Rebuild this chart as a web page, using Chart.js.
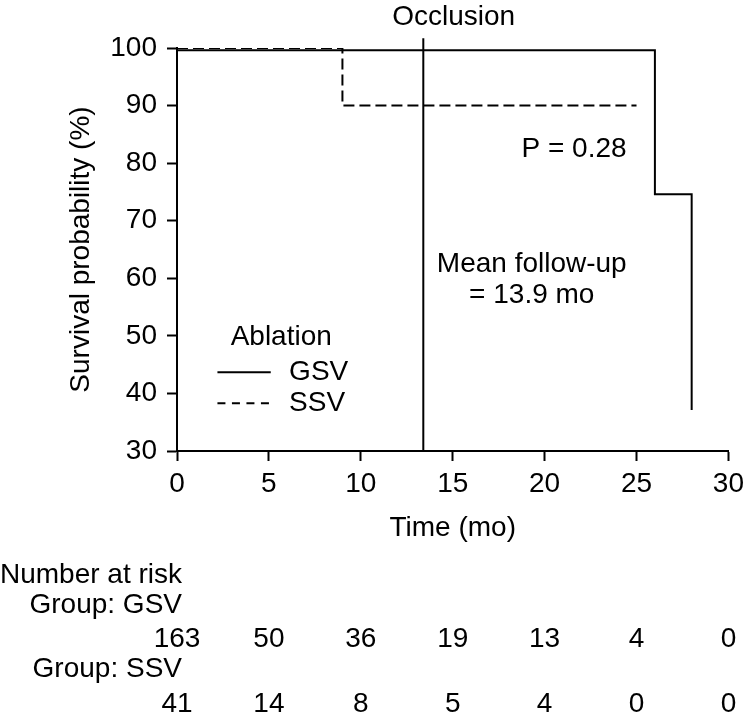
<!DOCTYPE html>
<html><head><meta charset="utf-8">
<script src="https://cdn.jsdelivr.net/npm/chart.js@4/dist/chart.umd.min.js"></script>
<style>html,body{margin:0;padding:0;background:#fff}canvas{display:block}</style>
</head><body>
<canvas id="c" width="750" height="714"></canvas>
<script>
// ---- data ----
const seriesNames = ['GSV', 'SSV'];
const gsvTime = [0, 26, 28];
const gsvSurv = [99.6, 74.6, 37.1];
const ssvTime = [0, 9, 25];
const ssvSurv = [100, 90, 90];
const occlusionTime = 13.4;
const xTickValues = [0, 5, 10, 15, 20, 25, 30];
const yTickValues = [30, 40, 50, 60, 70, 80, 90, 100];
const riskTimes = [0, 5, 10, 15, 20, 25, 30];
const riskGSV = [163, 50, 36, 19, 13, 4, 0];
const riskSSV = [41, 14, 8, 5, 4, 0, 0];

// ---- text ----
const texts = {
  top: 'Occlusion', p: 'P = 0.28', mean1: 'Mean follow-up', mean2: '= 13.9 mo',
  legendTitle: 'Ablation', xTitle: 'Time (mo)', yTitle: 'Survival probability (%)',
  riskTitle: 'Number at risk', groupPrefix: 'Group: '
};

// ---- layout (data-unit anchors for annotations) ----
const FONT = '28px "Liberation Sans", Arial, sans-serif';
const annot = {
  top: [15.05, 104.0], p: [21.6, 81.07], mean1: [19.3, 61.1], mean2: [19.3, 55.7],
  legendTitle: [5.67, 49.8], legendLine: [2.2, 5.1], legendText: 6.1, legendRows: [43.7, 38.3]
};
const riskRows = {title: 583, g1: 613, n1: 647, g2: 677, n2: 712, groupRight: 182};

const toPts = (t, s) => t.map((v, i) => ({x: v, y: s[i]}));

const overlay = {
  id: 'overlay',
  afterDraw(chart) {
    const {ctx} = chart; const x = chart.scales.x, y = chart.scales.y;
    const px = v => x.getPixelForValue(v), py = v => y.getPixelForValue(v);
    ctx.save();
    ctx.fillStyle = '#000'; ctx.font = FONT; ctx.textBaseline = 'alphabetic';
    ctx.textAlign = 'center';
    ctx.fillText(texts.top, px(annot.top[0]), py(annot.top[1]));
    ctx.fillText(texts.p, px(annot.p[0]), py(annot.p[1]));
    ctx.fillText(texts.mean1, px(annot.mean1[0]), py(annot.mean1[1]));
    ctx.fillText(texts.mean2, px(annot.mean2[0]), py(annot.mean2[1]));
    // legend
    ctx.textBaseline = 'middle';
    ctx.fillText(texts.legendTitle, px(annot.legendTitle[0]), py(annot.legendTitle[1]));
    const legendDash = [[], [8, 6.5]];
    seriesNames.forEach((name, i) => {
      const yy = py(annot.legendRows[i]);
      ctx.beginPath();
      ctx.setLineDash(legendDash[i]);
      ctx.lineWidth = 2; ctx.strokeStyle = '#000';
      ctx.moveTo(px(annot.legendLine[0]), yy); ctx.lineTo(px(annot.legendLine[1]), yy);
      ctx.stroke();
      ctx.setLineDash([]);
      ctx.textAlign = 'left';
      ctx.fillText(name, px(annot.legendText), yy);
    });
    // number at risk table
    ctx.textBaseline = 'alphabetic';
    ctx.textAlign = 'left';
    ctx.fillText(texts.riskTitle, 0, riskRows.title);
    ctx.textAlign = 'right';
    ctx.fillText(texts.groupPrefix + seriesNames[0], riskRows.groupRight, riskRows.g1);
    ctx.fillText(texts.groupPrefix + seriesNames[1], riskRows.groupRight, riskRows.g2);
    ctx.textAlign = 'center';
    riskTimes.forEach((t, i) => {
      ctx.fillText(String(riskGSV[i]), px(t), riskRows.n1);
      ctx.fillText(String(riskSSV[i]), px(t), riskRows.n2);
    });
    ctx.restore();
  }
};

Chart.defaults.font.family = '"Liberation Sans", Arial, sans-serif';
Chart.defaults.font.size = 28;
Chart.defaults.color = '#000';

new Chart(document.getElementById('c'), {
  type: 'line',
  data: {
    datasets: [
      {label: seriesNames[0], data: toPts(gsvTime, gsvSurv), stepped: 'before', borderColor: '#000', borderWidth: 2, pointRadius: 0, fill: false},
      {label: seriesNames[1], data: toPts(ssvTime, ssvSurv), stepped: 'before', borderColor: '#000', borderWidth: 2, borderDash: [11, 5], pointRadius: 0, fill: false},
      {label: 'Occlusion', data: [{x: occlusionTime, y: 30}, {x: occlusionTime, y: 101.7}], borderColor: '#000', borderWidth: 2, pointRadius: 0, fill: false, clip: false}
    ]
  },
  options: {
    responsive: false, animation: false, devicePixelRatio: 1,
    layout: {padding: {left: 0, right: 17, top: 48, bottom: 169}},
    plugins: {legend: {display: false}, tooltip: {enabled: false}},
    scales: {
      x: {
        type: 'linear', min: 0, max: 30,
        afterBuildTicks: s => { s.ticks = xTickValues.map(v => ({value: v})); },
        afterFit: s => { s.height = 94; },
        ticks: {padding: 6, maxRotation: 0, autoSkip: false, font: {size: 28}},
        grid: {display: true, drawOnChartArea: false, drawTicks: true, tickLength: 10, tickColor: '#000', tickWidth: 2},
        border: {display: true, color: '#000', width: 2},
        title: {display: true, text: texts.xTitle, font: {size: 28}, padding: {top: 0, bottom: 0}}
      },
      y: {
        type: 'linear', min: 30, max: 100,
        afterBuildTicks: s => { s.ticks = yTickValues.map(v => ({value: v})); },
        afterFit: s => { s.width = 177; },
        ticks: {padding: 10, autoSkip: false, font: {size: 28}},
        grid: {display: true, drawOnChartArea: false, drawTicks: true, tickLength: 10, tickColor: '#000', tickWidth: 2},
        border: {display: true, color: '#000', width: 2},
        title: {display: true, text: texts.yTitle, font: {size: 28}, padding: {top: 64, bottom: 0}}
      }
    }
  },
  plugins: [overlay]
});
</script>
</body></html>
